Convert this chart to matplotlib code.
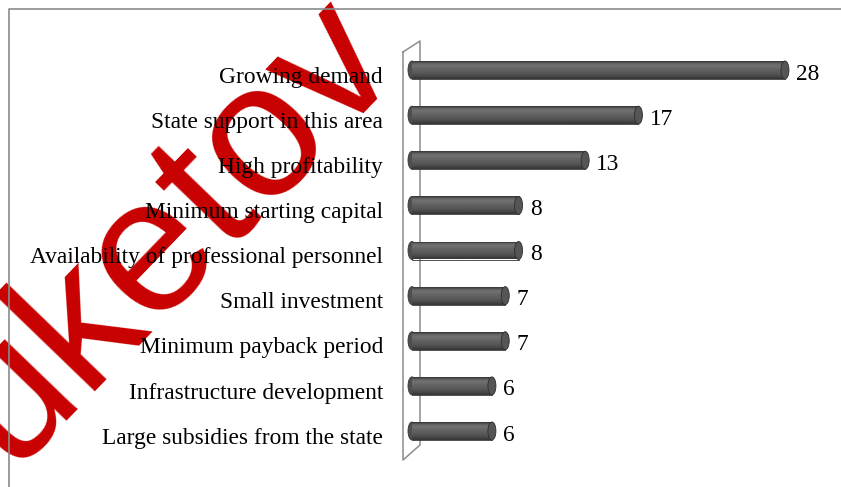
import numpy as np
import matplotlib
matplotlib.use("Agg")
import matplotlib.pyplot as plt
from matplotlib.patches import Rectangle, Ellipse
from matplotlib.lines import Line2D

categories = [
    "Growing demand",
    "State support in this area",
    "High profitability",
    "Minimum starting capital",
    "Availability of professional personnel",
    "Small investment",
    "Minimum payback period",
    "Infrastructure development",
    "Large subsidies from the state",
]
values = [28, 17, 13, 8, 8, 7, 7, 6, 6]

W, H = 841, 487
fig = plt.figure(figsize=(W / 100, H / 100), dpi=100)
fig.patch.set_facecolor("white")

# axes placement in pixels
px_per_unit = 13.32
x0_px = 412
xmax = 32
yc_top, yc_bot = 70, 431
step = (yc_bot - yc_top) / (len(categories) - 1)
ax_top = yc_top - step / 2
ax_bot = yc_bot + step / 2
ax = fig.add_axes([x0_px / W, (H - ax_bot) / H, xmax * px_per_unit / W, (ax_bot - ax_top) / H])
ax.set_xlim(0, xmax)
ax.set_ylim(len(categories) - 0.5, -0.5)
ax.axis("off")

def figpt(x, y):
    return (x / W, 1 - y / H)

# outer border (left and top)
xs, ys = zip(*[figpt(9, 487), figpt(9, 8.5), figpt(841, 8.5)])
fig.add_artist(Line2D(xs, ys, color="#8a8a8a", lw=1.2))

# 3D wall
wall = [(403, 52), (420, 41), (420, 445), (403, 460), (403, 52)]
wx, wy = zip(*[figpt(x, y) for x, y in wall])
ax.add_artist(Line2D(wx, wy, transform=fig.transFigure, color="#8c8c8c", lw=1.1,
                     zorder=1, clip_on=False))

# watermark
ax.text(170 / W, 1 - 230 / H, "uketov", transform=fig.transFigure, rotation=46,
        rotation_mode="anchor", ha="center", va="center", fontsize=138,
        family="Liberation Sans", color="#c80000", zorder=0.5, clip_on=False)

# bars as cylinders
bh = 18 / step
cap_w = 8 / px_per_unit
grad = np.array([0.26, 0.40, 0.44, 0.42, 0.39, 0.37, 0.35, 0.32, 0.28, 0.22])[:, None]
FS = 16.8
for i, v in enumerate(values):
    y = i
    left = Ellipse((0, y), cap_w, bh, facecolor="#4e4e4e", edgecolor="#3a3a3a", lw=0.6,
                   zorder=2, clip_on=False)
    ax.add_patch(left)
    rect = Rectangle((0, y - bh / 2), v, bh, facecolor="none", edgecolor="none", zorder=2.1)
    ax.add_patch(rect)
    im = ax.imshow(grad, cmap="gray", vmin=0, vmax=1, aspect="auto",
                   extent=(0, v, y + bh / 2, y - bh / 2), zorder=2.1, interpolation="bilinear")
    im.set_clip_path(rect)
    ax.plot([0, v], [y - bh / 2, y - bh / 2], color="#3c3c3c", lw=0.6, zorder=2.2)
    ax.plot([0, v], [y + bh / 2, y + bh / 2], color="#333333", lw=0.6, zorder=2.2)
    right = Ellipse((v, y), cap_w, bh, facecolor="#555555", edgecolor="#2e2e2e", lw=0.6, zorder=2.3)
    ax.add_patch(right)
    ax.text(v + 0.85, y + 0.09, str(v), ha="left", va="center", fontsize=FS,
            family="Liberation Serif", color="black", zorder=3)
    ax.text(-29 / px_per_unit, y + 0.16, categories[i], ha="right", va="center",
            fontsize=FS, family="Liberation Serif", color="black", zorder=3, clip_on=False)

ax.set_xlim(0, xmax)
ax.set_ylim(len(categories) - 0.5, -0.5)

fig.savefig("out.png", dpi=100)
